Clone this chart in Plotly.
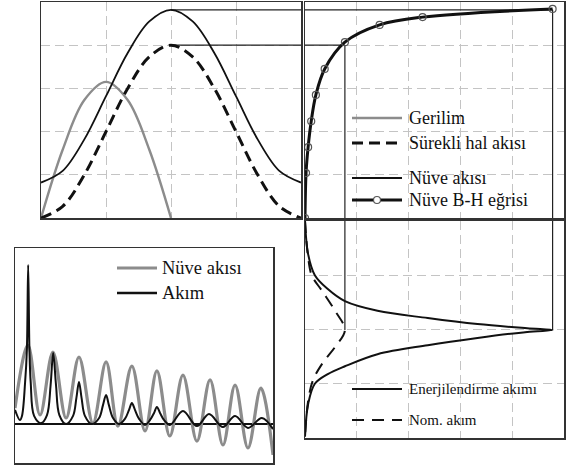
import plotly.graph_objects as go

# ---------------- Top-left panel: voltage and flux vs. angle (deg) ----------------
flux_angle = [0, 30, 60, 90, 120, 150, 180, 210, 240, 270, 300, 330, 360]
steady_flux = [0, 0.27, 1.0, 2.0, 3.0, 3.73, 4.0, 3.73, 3.0, 2.0, 1.0, 0.27, 0]
core_flux = [0.82, 1.09, 1.82, 2.82, 3.82, 4.55, 4.82, 4.55, 3.82, 2.82, 1.82, 1.09, 0.82]
voltage_angle = [0, 30, 60, 90, 120, 150, 180]
voltage = [0, 1.58, 2.73, 3.15, 2.73, 1.58, 0]

# ---------------- Top-right panel: core B-H curve ----------------
bh_H = [0, 0.02, 0.06, 0.12, 0.21, 0.38, 0.77, 1.44, 2.27, 4.78]
bh_B = [0, 1.04, 1.64, 2.24, 2.85, 3.45, 4.07, 4.47, 4.65, 4.84]

# ---------------- Bottom-right panel: currents vs. angle (time downward) ----------------
exc_time = [0, 55, 90, 113, 133, 149, 161, 171, 178, 181, 184, 194, 206, 221, 241, 254, 270, 304, 358]
exc_current = [0, 0.06, 0.19, 0.44, 0.77, 1.40, 2.37, 3.33, 4.29, 4.78, 4.29, 3.33, 2.37, 1.40, 0.77, 0.44, 0.19, 0.06, 0]
nom_time = [0, 60, 90, 116, 149, 181, 209, 237, 265, 299, 358]
nom_current = [0, 0.06, 0.13, 0.33, 0.58, 0.77, 0.58, 0.33, 0.15, 0.06, 0]

# ---------------- Bottom-left panel: inrush transient over 10 cycles ----------------
trans_flux_t = [0, 0.50, 0.97, 1.47, 1.98, 2.48, 3.02, 3.53, 3.99, 4.53, 5.04, 5.50, 6.00,
                6.51, 7.05, 7.56, 8.06, 8.53, 9.03, 9.53, 10.0]
trans_flux = [0.53, 2.63, 0.30, 2.40, 0.20, 2.23, 0.03, 2.07, -0.07, 1.93, -0.23, 1.77, -0.40,
              1.63, -0.57, 1.47, -0.70, 1.30, -0.80, 1.20, -1.03]
trans_cur_t = [0, 0.19, 0.27, 0.39, 0.46, 0.51, 0.56, 0.61, 0.74, 1.01,
               1.24, 1.38, 1.48, 1.59, 1.72, 1.98,
               2.25, 2.38, 2.48, 2.58, 2.71, 2.98,
               3.26, 3.41, 3.53, 3.64, 3.80, 4.03,
               4.26, 4.42, 4.53, 4.65, 4.81, 5.04,
               5.23, 5.39, 5.50, 5.62, 5.78, 6.01,
               6.51, 7.05, 7.52, 8.06, 8.53, 9.03, 9.57, 10.0]
trans_cur = [0.47, 0.13, 0.27, 1.37, 2.47, 5.30, 2.47, 1.37, 0.27, 0.03,
             0.30, 1.30, 2.37, 1.30, 0.30, 0.0,
             0.27, 0.87, 1.40, 0.87, 0.27, 0.0,
             0.20, 0.63, 0.97, 0.63, 0.20, 0.0,
             0.17, 0.47, 0.70, 0.47, 0.17, -0.03,
             0.13, 0.37, 0.57, 0.37, 0.13, -0.03,
             0.43, -0.07, 0.33, -0.10, 0.27, -0.13, 0.20, -0.17]

# legend texts
lbl_voltage = "Gerilim"
lbl_steady = "Sürekli hal akısı"
lbl_core = "Nüve akısı"
lbl_bh = "Nüve B-H eğrisi"
lbl_flux2 = "Nüve akısı"
lbl_cur2 = "Akım"
lbl_exc = "Enerjilendirme akımı"
lbl_nom = "Nom. akım"

FONT = "Liberation Serif, Times New Roman, serif"
GREY = "#8c8c8c"
BLACK = "#111111"
GRID = "#c4c4c4"
BORDER = "#333333"

st_voltage = dict(color=GREY, width=2.4)
st_steady = dict(color=BLACK, width=3, dash="11px,6px")
st_core = dict(color=BLACK, width=1.8)
st_bh = dict(color=BLACK, width=3)
st_flux2 = dict(color=GREY, width=3.2)
st_cur2 = dict(color=BLACK, width=2)
st_exc = dict(color=BLACK, width=2)
st_nom = dict(color=BLACK, width=2, dash="12px,8px")

fig = go.Figure()

fig.add_trace(go.Scatter(x=voltage_angle, y=voltage, mode="lines", line=dict(st_voltage, shape="spline"),
                         name=lbl_voltage, xaxis="x", yaxis="y"))
fig.add_trace(go.Scatter(x=flux_angle, y=steady_flux, mode="lines", line=dict(st_steady, shape="spline"),
                         name=lbl_steady, xaxis="x", yaxis="y"))
fig.add_trace(go.Scatter(x=flux_angle, y=core_flux, mode="lines", line=dict(st_core, shape="spline"),
                         name=lbl_core, xaxis="x", yaxis="y"))
fig.add_trace(go.Scatter(x=bh_H, y=bh_B, mode="lines+markers", line=dict(st_bh, shape="spline"),
                         marker=dict(symbol="circle-open", size=7, color="#555555", line=dict(width=1.2)),
                         name=lbl_bh, xaxis="x2", yaxis="y2"))
fig.add_trace(go.Scatter(x=trans_flux_t, y=trans_flux, mode="lines", line=dict(st_flux2, shape="spline"),
                         name=lbl_flux2, xaxis="x3", yaxis="y3"))
fig.add_trace(go.Scatter(x=trans_cur_t, y=trans_cur, mode="lines", line=dict(st_cur2, shape="spline"),
                         name=lbl_cur2, xaxis="x3", yaxis="y3"))
fig.add_trace(go.Scatter(x=exc_current, y=exc_time, mode="lines", line=dict(st_exc, shape="spline"),
                         name=lbl_exc, xaxis="x4", yaxis="y4"))
fig.add_trace(go.Scatter(x=nom_current, y=nom_time, mode="lines", line=dict(st_nom, shape="spline"),
                         name=lbl_nom, xaxis="x4", yaxis="y4"))

W, H = 566, 469


def px(p):
    return p / W


def py(p):
    return 1 - p / H


def dom_x(a, b):
    return [px(a), px(b)]


def dom_y(top, bottom):
    return [py(bottom), py(top)]


def axis(domain, rng, dtick, anchor, grid=True):
    return dict(domain=domain, range=rng, dtick=dtick, anchor=anchor, showgrid=grid,
                gridcolor=GRID, griddash="9px,5px", gridwidth=1, zeroline=False,
                showline=True, mirror=True, linecolor=BORDER, linewidth=1.5,
                showticklabels=False, ticks="", fixedrange=True)


shapes = []

# white legend backgrounds (hide the grid behind the legend boxes)
for (x0, y0, x1, y1) in [(348, 100, 532, 213), (348, 378, 548, 436)]:
    shapes.append(dict(type="rect", xref="paper", yref="paper", x0=px(x0), x1=px(x1), y0=py(y1), y1=py(y0),
                       fillcolor="white", line=dict(width=0), layer="between"))

# construction lines linking the panels (derived from data)
peak_core = max(core_flux)
peak_steady = max(steady_flux)
H_peak = max(exc_current)
H_nom = max(nom_current)
t_peak = exc_time[exc_current.index(H_peak)]
t_nom = nom_time[nom_current.index(H_nom)]
ang_peak = flux_angle[steady_flux.index(peak_steady)]
cl = dict(color="#222222", width=1.2)
shapes += [
    dict(type="line", xref="x", yref="y", x0=ang_peak, x1=360, y0=peak_core, y1=peak_core, line=cl, layer="between"),
    dict(type="line", xref="x", yref="y", x0=ang_peak, x1=360, y0=peak_steady, y1=peak_steady, line=cl, layer="between"),
    dict(type="line", xref="x2", yref="y2", x0=0, x1=H_peak, y0=peak_core, y1=peak_core, line=cl, layer="between"),
    dict(type="line", xref="x2", yref="y2", x0=0, x1=H_nom, y0=peak_steady, y1=peak_steady, line=cl, layer="between"),
    dict(type="line", xref="x2", yref="y2", x0=H_peak, x1=H_peak, y0=peak_core, y1=0, line=cl, layer="between"),
    dict(type="line", xref="x2", yref="y2", x0=H_nom, x1=H_nom, y0=peak_steady, y1=0, line=cl, layer="between"),
    dict(type="line", xref="x4", yref="y4", x0=H_peak, x1=H_peak, y0=0, y1=t_peak, line=cl, layer="between"),
    dict(type="line", xref="x4", yref="y4", x0=H_nom, x1=H_nom, y0=0, y1=t_nom, line=cl, layer="between"),
]

# hand-placed legends: (label, line style, row y, sample x0, sample x1, text x, font size, marker)
legend_rows = [
    (lbl_voltage, st_voltage, 118, 352, 402, 407, 18, False),
    (lbl_steady, st_steady, 143, 352, 402, 407, 18, False),
    (lbl_core, st_core, 178, 352, 402, 407, 18, False),
    (lbl_bh, st_bh, 200, 352, 402, 407, 18, True),
    (lbl_flux2, st_flux2, 268, 117, 157, 160, 18.5, False),
    (lbl_cur2, dict(color=BLACK, width=2.6), 293, 117, 157, 160, 18.5, False),
    (lbl_exc, st_exc, 389, 352, 402, 407, 15, False),
    (lbl_nom, st_nom, 420, 352, 402, 407, 15, False),
]
annotations = []
for label, style, ry, sx0, sx1, tx, fs, mk in legend_rows:
    shapes.append(dict(type="line", xref="paper", yref="paper", x0=px(sx0), x1=px(sx1), y0=py(ry), y1=py(ry),
                       line=style, layer="above"))
    if mk:
        cx = (sx0 + sx1) / 2
        shapes.append(dict(type="circle", xref="paper", yref="paper", x0=px(cx - 3.5), x1=px(cx + 3.5),
                           y0=py(ry + 3.5), y1=py(ry - 3.5), fillcolor="white",
                           line=dict(color="#555555", width=1.2), layer="above"))
    annotations.append(dict(text=label, xref="paper", yref="paper", x=px(tx), y=py(ry), xanchor="left",
                            yanchor="middle", showarrow=False, font=dict(family=FONT, size=fs, color=BLACK)))

yax3 = axis(dom_y(248, 463), [-1.3, 5.87], 1, "x3", grid=False)
yax3.update(zeroline=True, zerolinecolor=BLACK, zerolinewidth=1.3)

fig.update_layout(
    width=W, height=H, margin=dict(l=0, r=0, t=0, b=0),
    paper_bgcolor="white", plot_bgcolor="white",
    font=dict(family=FONT, color=BLACK),
    showlegend=False,
    hovermode=False,
    xaxis=axis(dom_x(41, 301), [0, 360], 90, "y"),
    yaxis=axis(dom_y(2, 218), [0, 5], 1, "x"),
    xaxis2=axis(dom_x(305, 564), [0, 5], 1, "y2"),
    yaxis2=axis(dom_y(2, 218), [0, 5], 1, "x2"),
    xaxis3=axis(dom_x(15, 273), [0, 10], 1, "y3", grid=False),
    yaxis3=yax3,
    xaxis4=axis(dom_x(305, 564), [0, 5], 1, "y4"),
    yaxis4=axis(dom_y(221, 438), [360, 0], 90, "x4"),
    shapes=shapes,
    annotations=annotations,
)

fig.write_html("out.html", config={"displayModeBar": False, "staticPlot": True},
               post_script="document.body.style.margin='0px';document.body.style.padding='0px';")
